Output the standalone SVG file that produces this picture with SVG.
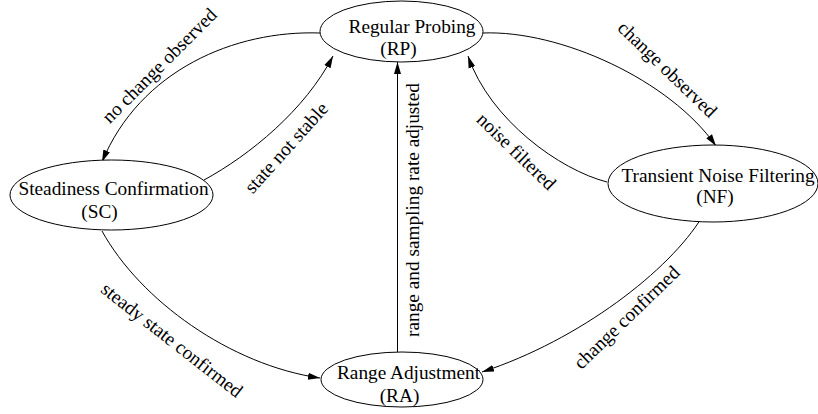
<svg xmlns="http://www.w3.org/2000/svg" width="818" height="414" viewBox="0 0 818 414">
  <style>
    .node ellipse { fill: #ffffff; stroke: #000000; stroke-width: 1; }
    .node text { font-family: "Liberation Serif", "Times New Roman", serif; font-size: 19.3px; fill: #000000; text-anchor: middle; }
    .edge path { fill: none; stroke: #000000; stroke-width: 1; marker-end: url(#arrow); }
    .label { font-family: "Liberation Serif", "Times New Roman", serif; font-size: 19.3px; fill: #000000; text-anchor: middle; }
  </style>
  <defs>
    <marker id="arrow" markerUnits="userSpaceOnUse" markerWidth="14" markerHeight="10" refX="12" refY="4" orient="auto">
      <path d="M0,0.5 L12,4 L0,7.5 Z" fill="#000000"/>
    </marker>
  </defs>
  <rect width="818" height="414" fill="#ffffff"/>

  <!-- transitions -->
  <g id="edges">
    <g class="edge" id="rp-sc"><path d="M320,33 C235,30 140,70 102,162"/></g>
    <g class="edge" id="sc-rp"><path d="M204,180 C250,155 305,110 333,56"/></g>
    <g class="edge" id="rp-nf"><path d="M483,33 C560,30 670,80 716,146"/></g>
    <g class="edge" id="nf-rp"><path d="M607,182 C560,170 490,120 468,56"/></g>
    <g class="edge" id="ra-rp"><path d="M397.5,352 L397.5,62"/></g>
    <g class="edge" id="sc-ra"><path d="M102,231 C140,300 230,365 320,378"/></g>
    <g class="edge" id="nf-ra"><path d="M702,217 C670,270 580,340 482,372"/></g>

    <text class="label" transform="translate(164,70) rotate(-45)">no change observed</text>
    <text class="label" transform="translate(291,152) rotate(-48)">state not stable</text>
    <text class="label" transform="translate(663,74) rotate(44)">change observed</text>
    <text class="label" transform="translate(512,156) rotate(44)">noise filtered</text>
    <text class="label" transform="translate(419,210) rotate(-90)">range and sampling rate adjusted</text>
    <text class="label" transform="translate(168,345) rotate(38)">steady state confirmed</text>
    <text class="label" transform="translate(631,322) rotate(-44)">change confirmed</text>
  </g>

  <!-- states -->
  <g class="node" id="RP">
    <ellipse cx="401.5" cy="31.5" rx="81.5" ry="30.5"/>
    <text x="412" y="33">Regular Probing</text>
    <text x="398.5" y="55">(RP)</text>
  </g>
  <g class="node" id="SC">
    <ellipse cx="111.5" cy="195" rx="101.5" ry="35"/>
    <text x="113.5" y="195">Steadiness Confirmation</text>
    <text x="99.5" y="218">(SC)</text>
  </g>
  <g class="node" id="NF">
    <ellipse cx="713" cy="183.5" rx="105" ry="38.5"/>
    <text x="718" y="182">Transient Noise Filtering</text>
    <text x="715" y="203">(NF)</text>
  </g>
  <g class="node" id="RA">
    <ellipse cx="402" cy="379.5" rx="81" ry="27.5"/>
    <text x="408.5" y="379">Range Adjustment</text>
    <text x="399.5" y="402">(RA)</text>
  </g>
</svg>
